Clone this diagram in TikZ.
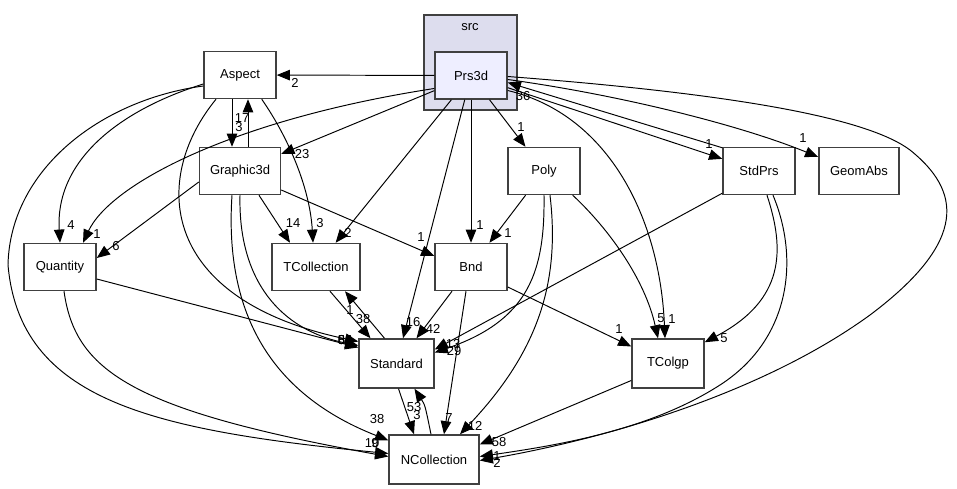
\documentclass[tikz,border=0pt]{standalone}
\usepackage{fontspec}
\setmainfont{Liberation Sans}
\usetikzlibrary{arrows.meta,calc}
\definecolor{srcback}{HTML}{DDDDEE}
\definecolor{prsback}{HTML}{EEEEFF}

\begin{document}
\begin{tikzpicture}[x=0.02cm, y=-0.02cm,
		dir/.style={draw=black!75, line width=0.85pt, fill=white, minimum width=1.44cm, minimum height=0.94cm, inner sep=0pt, font=\fontsize{7.4}{9}\selectfont},
		dep/.style={-{Triangle[length=7.5pt,width=6pt]}, line width=0.55pt},
		lbl/.style={inner sep=0pt, font=\fontsize{7.4}{9}\selectfont}]
		\useasboundingbox (0,0) rectangle (957,489);
		% src cluster
		\node[draw=black!75, line width=0.85pt, fill=srcback, minimum width=1.86cm, minimum height=1.9cm] (src) at (470.5,62.5) {};
		\node[lbl] (srcname) at (470,27) {src};
		\node[dir, fill=prsback] (prs) at (471,75.5) {Prs3d};
		\node[dir] (asp) at (240,75) {Aspect};
		\node[dir, minimum width=1.62cm] (g3d) at (240,171) {Graphic3d};
		\node[dir] (poly) at (544,171) {Poly};
		\node[dir] (stdprs) at (759,171) {StdPrs};
		\node[dir, minimum width=1.6cm] (geom) at (859,171) {GeomAbs};
		\node[dir] (qty) at (60,267) {Quantity};
		\node[dir, minimum width=1.76cm] (tcoll) at (316,267) {TCollection};
		\node[dir] (bnd) at (471,267) {Bnd};
		\node[dir, minimum width=1.5cm, minimum height=0.98cm] (std) at (396.5,363.5) {Standard};
		\node[dir, minimum height=0.98cm] (tcolgp) at (668,363.5) {TColgp};
		\node[dir, minimum width=1.8cm, minimum height=0.98cm] (ncoll) at (434,459.5) {NCollection};

		% Prs3d
		\draw[dep] (prs) -- (asp) node[lbl] (l1) at (295,83) {2};
		\draw[dep] (prs) -- (g3d) node[lbl] (l2) at (302,154) {23};
		\draw[dep] ($(prs.west)+(0,13)$) .. controls (230,120) and (110,185) .. ($(qty.north)+(23,0)$) node[lbl] (l3) at (97,234) {1};
		\draw[dep] (prs) -- (tcoll) node[lbl] (l4) at (348,233) {2};
		\draw[dep] (prs) -- (std) node[lbl] (l5) at (413,322) {16};
		\draw[dep] (prs) -- (bnd) node[lbl] (l6) at (480,225) {1};
		\draw[dep] (prs) -- (poly) node[lbl] (l7) at (521,127) {1};
		\draw[dep] ($(prs.east)+(0,15)$) .. controls (610,115) and (660,220) .. ($(tcolgp.north)+(-3,0)$) node[lbl] (l8) at (672,319) {1};
		\draw[dep] (prs) -- (stdprs) node[lbl] (l9) at (709,144) {1};
		\draw[dep] ($(stdprs.north west)+(0,1)$) -- ($(prs.east)+(0,7)$) node[lbl] (l10) at (523,96) {36};
		\draw[dep] ($(prs.east)+(0,4)$) .. controls (620,95) and (740,125) .. ($(geom.west)+(0,-14)$) node[lbl] (l11) at (803,138) {1};
		\draw[dep] ($(prs.east)+(0,1)$) .. controls (750,95) and (870,120) .. (910,150) .. controls (960,190) and (970,240) .. (870,315) .. controls (760,395) and (600,440) .. ($(ncoll.east)+(0,1)$) node[lbl] (l12) at (497,463) {2};

		% StdPrs and Poly
		\draw[dep] ($(stdprs.south)+(14,0)$) .. controls (800,260) and (790,340) .. (720,385) .. controls (650,430) and (560,445) .. ($(ncoll.east)+(0,-3)$) node[lbl] (l13) at (497,456) {1};
		\draw[dep] ($(stdprs.south)+(8,0)$) .. controls (785,250) and (785,300) .. ($(tcolgp.north east)+(0,4)$) node[lbl] (l14) at (724,338) {5};
		\draw[dep] ($(stdprs.south west)+(0,-2)$) -- ($(std.east)+(0,-14)$) node[lbl] (l15) at (454,351) {29};
		\draw[dep] (poly) -- (bnd) node[lbl] (l16) at (508,233) {1};
		\draw[dep] (poly.south) .. controls (545,270) and (530,320) .. ($(std.east)+(0,-11)$) node[lbl] (l17) at (453,344) {13};
		\draw[dep] ($(poly.south)+(6,0)$) .. controls (560,280) and (540,350) .. ($(ncoll.north)+(26,0)$) node[lbl] (l18) at (475,426) {12};
		\draw[dep] ($(poly.south east)+(-8,0)$) .. controls (610,230) and (645,280) .. ($(tcolgp.north)+(-10,0)$) node[lbl] (l19) at (661,318) {5};

		% Aspect
		\draw[dep] ($(asp.south)+(-8,0)$) -- ($(g3d.north)+(-8,0)$) node[lbl] (l20) at (239,127) {3};
		\draw[dep] ($(g3d.north)+(8,0)$) -- ($(asp.south)+(8,0)$) node[lbl] (l21) at (242,118) {17};
		\draw[dep] ($(asp.west)+(0,9)$) .. controls (120,110) and (55,160) .. (qty.north) node[lbl] (l22) at (71,225) {4};
		\draw[dep] ($(asp.west)+(0,11)$) .. controls (100,100) and (10,170) .. (8,265) .. controls (20,400) and (150,430) .. ($(ncoll.west)+(0,-6)$) node[lbl] (l23) at (372,443) {10};
		\draw[dep] ($(asp.south east)+(-15,0)$) .. controls (290,140) and (310,190) .. ($(tcoll.north)+(-3,0)$) node[lbl] (l24) at (320,223) {3};
		\draw[dep] ($(asp.south)+(-24,0)$) .. controls (150,180) and (160,300) .. ($(std.west)+(0,-22)$) node[lbl] (l25) at (345,340) {59};

		% Graphic3d
		\draw[dep] ($(g3d.west)+(0,11)$) -- ($(qty.east)+(0,-9)$) node[lbl] (l26) at (116,246) {6};
		\draw[dep] ($(g3d.south)+(19,0)$) -- ($(tcoll.north)+(-26,0)$) node[lbl] (l27) at (293,223) {14};
		\draw[dep] ($(g3d.east)+(0,19)$) -- ($(bnd.west)+(0,-11)$) node[lbl] (l28) at (421,237) {1};
		\draw[dep] (g3d.south) .. controls (238,280) and (280,330) .. ($(std.west)+(0,-18)$) node[lbl] (l29) at (345,340) {84};
		\draw[dep] ($(g3d.south)+(-8,0)$) .. controls (225,300) and (260,390) .. ($(ncoll.north west)+(0,6)$) node[lbl] (l30) at (377,419) {38};

		% Quantity
		\draw[dep] ($(qty.east)+(0,12)$) -- ($(std.west)+(0,-16)$) node[lbl] (l31) at (345,340) {64};
		\draw[dep] ($(qty.south)+(4,0)$) .. controls (75,370) and (130,410) .. ($(ncoll.west)+(0,-3)$) node[lbl] (l32) at (375,443) {9};

		% TCollection, Bnd, Standard, TColgp
		\draw[dep] ($(tcoll.south)+(14,0)$) -- ($(std.north)+(-26,0)$) node[lbl] (l33) at (363,319) {38};
		\draw[dep] ($(std.north)+(-12,0)$) -- ($(tcoll.south)+(29,0)$) node[lbl] (l34) at (350,310) {1};
		\draw[dep] ($(bnd.south)+(-19,0)$) -- ($(std.north)+(20,0)$) node[lbl] (l35) at (433,329) {42};
		\draw[dep] ($(bnd.south)+(-5,0)$) -- ($(ncoll.north)+(10,0)$) node[lbl] (l36) at (449,418) {7};
		\draw[dep] ($(bnd.east)+(0,20)$) -- ($(tcolgp.west)+(0,-17)$) node[lbl] (l37) at (619,329) {1};
		\draw[dep] ($(std.south)+(2,0)$) -- ($(ncoll.north)+(-20,0)$) node[lbl] (l38) at (417,415) {3};
		\draw[dep] ($(ncoll.north)+(-3,0)$) .. controls (425,405) .. ($(std.south)+(18,0)$) node[lbl] (l39) at (414,407) {53};
		\draw[dep] ($(tcolgp.west)+(0,17)$) -- ($(ncoll.east)+(0,-15)$) node[lbl] (l40) at (499,442) {58};
	\end{tikzpicture}
\end{document}
